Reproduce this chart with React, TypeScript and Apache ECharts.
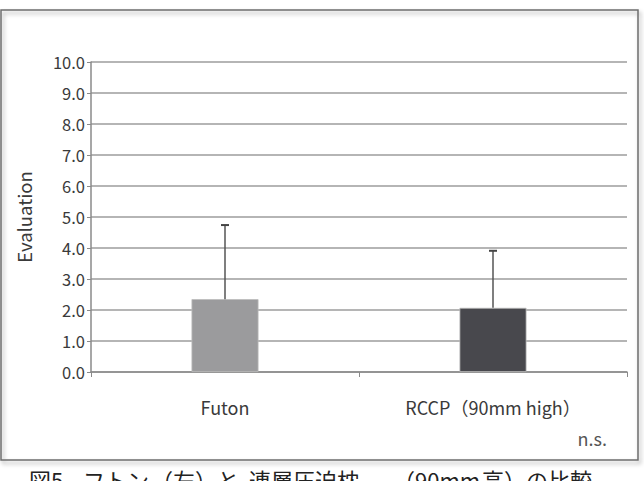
import React, { useEffect, useRef } from "react";
import * as echarts from "echarts";

const categories = ["Futon", "RCCP（90mm high）"];
const means = [2.35, 2.07];
const upperErrors = [4.74, 3.91];
const barColors = ["#9b9b9d", "#48484d"];
const yTicks = { min: 0, max: 10, interval: 1 };
const captionParts = [
  { text: "図5", x: 29 },
  { text: "フトン", x: 83 },
  { text: "（左）と", x: 151 },
  { text: "連層圧迫枕", x: 249 },
  { text: "（90mm", x: 393 },
  { text: "高）の比較", x: 482 },
];
const noteText = "n.s.";
const yAxisTitle = "Evaluation";

const FONT = "'Noto Sans CJK JP', 'Noto Sans', sans-serif";

export default function App() {
  const ref = useRef<HTMLDivElement>(null);
  useEffect(() => {
    if (!ref.current) return;
    const chart = echarts.init(ref.current, null, { renderer: "svg" });
    const errData = categories.map((_, i) => [i, means[i], upperErrors[i]]);
    chart.setOption({
      animation: false,
      backgroundColor: "#ffffff",
      textStyle: { fontFamily: FONT },
      grid: { left: 91, right: 17, top: 62, bottom: 109, containLabel: false },
      xAxis: {
        type: "category",
        data: categories,
        axisLine: { lineStyle: { color: "#8a8a8a", width: 1.5 } },
        axisTick: { show: true, length: 5, lineStyle: { color: "#8a8a8a" } },
        axisLabel: { color: "#3a3a3a", fontSize: 18, margin: 26, fontFamily: FONT },
      },
      yAxis: {
        type: "value",
        min: yTicks.min,
        max: yTicks.max,
        interval: yTicks.interval,
        name: yAxisTitle,
        nameLocation: "middle",
        nameGap: 58,
        nameTextStyle: { color: "#3a3a3a", fontSize: 18.5, fontFamily: FONT },
        axisLine: { show: true, lineStyle: { color: "#8a8a8a", width: 1.5 } },
        axisTick: { show: true, length: 4, lineStyle: { color: "#8a8a8a" } },
        axisLabel: {
          color: "#3a3a3a",
          fontSize: 16.5,
          margin: 6,
          fontFamily: FONT,
          formatter: (v: number) => v.toFixed(1),
        },
        splitLine: { lineStyle: { color: "#9d9d9d", width: 1.5 } },
      },
      series: [
        {
          type: "bar",
          barWidth: "25%",
          data: means.map((v, i) => ({
            value: v,
            itemStyle: { color: barColors[i], borderColor: "#bdbdbd", borderWidth: 0.8 },
          })),
          z: 2,
        },
        {
          type: "custom",
          z: 3,
          data: errData,
          renderItem: (params: any, api: any) => {
            const x = api.value(0);
            const lo = api.coord([x, api.value(1)]);
            const hi = api.coord([x, api.value(2)]);
            return {
              type: "group",
              children: [
                {
                  type: "line",
                  shape: { x1: lo[0], y1: lo[1], x2: hi[0], y2: hi[1] },
                  style: { stroke: "#555", lineWidth: 1.5 },
                },
                {
                  type: "line",
                  shape: { x1: hi[0] - 4, y1: hi[1], x2: hi[0] + 4, y2: hi[1] },
                  style: { stroke: "#444", lineWidth: 2 },
                },
              ],
            };
          },
        },
      ],
      graphic: [
        {
          type: "rect",
          shape: { x: 1, y: 10, width: 637, height: 450 },
          style: {
            fill: "none",
            stroke: "#6e6e6e",
            lineWidth: 1.5,
            shadowBlur: 4,
            shadowOffsetX: 2,
            shadowOffsetY: 3,
            shadowColor: "rgba(0,0,0,0.35)",
          },
          z: -1,
        },
        {
          type: "text",
          x: 607,
          y: 438,
          style: {
            text: noteText,
            fill: "#555",
            font: `18px ${FONT}`,
            textAlign: "right",
            textVerticalAlign: "middle",
          },
        },
        ...captionParts.map((p) => ({
          type: "text",
          x: p.x,
          y: 468,
          style: {
            text: p.text,
            fill: "#222",
            font: `22px ${FONT}`,
            textAlign: "left",
            textVerticalAlign: "top",
          },
        })),
      ],
    });
    return () => chart.dispose();
  }, []);
  return (
    <div
      ref={ref}
      style={{ position: "fixed", left: 0, top: 0, width: 644, height: 481 }}
    />
  );
}
